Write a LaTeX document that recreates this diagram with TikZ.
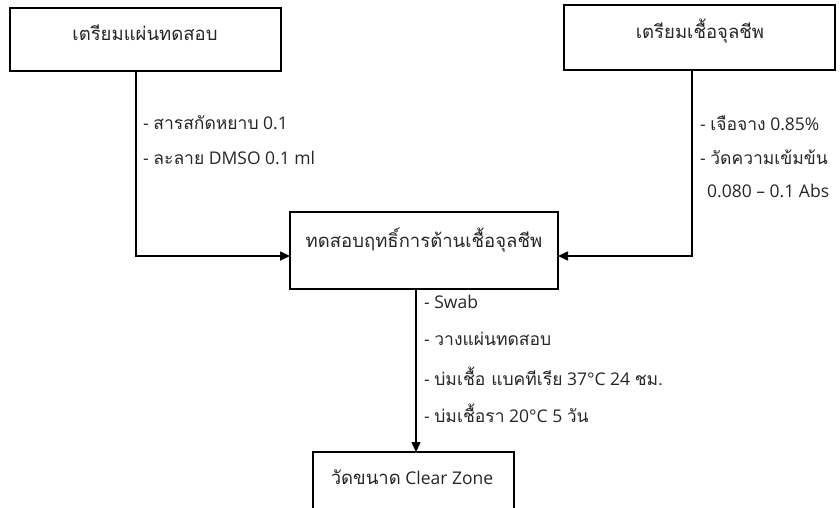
\documentclass[tikz,border=0pt]{standalone}
\usepackage{fontspec}
\setmainfont{Open Sans}
\newfontfamily\thai[Script=Thai]{Loma}
\usetikzlibrary{arrows.meta}
\begin{document}
\begin{tikzpicture}[x=1pt,y=-1pt,
  box/.style={draw, line width=1.6pt, inner sep=0pt},
  conn/.style={line width=1.6pt},
  arr/.style={conn, -{Triangle[length=10pt,width=9pt]}},
  lbl/.style={anchor=west, font=\fontsize{17.5}{17.5}\selectfont, text=black!85, inner sep=0pt},
  boxtxt/.style={font=\thai\fontsize{18.5}{18.5}\selectfont, text=black!85, inner sep=0pt}]
\useasboundingbox (0,0) rectangle (840,507);
\clip (0,0) rectangle (840,507);
% boxes
\draw[box] (10,8) rectangle (281,71);
\node[boxtxt] (t1) at (145,33) {เตรียมแผ่นทดสอบ};
\coordinate (b1) at (136,71);
\draw[box] (564,5) rectangle (835,70);
\node[boxtxt] (t2) at (700,31) {เตรียมเชื้อจุลชีพ};
\coordinate (b2) at (692,70);
\draw[box] (290,212) rectangle (558,289);
\node[boxtxt] (t3) at (424,240) {ทดสอบฤทธิ์การต้านเชื้อจุลชีพ};
\coordinate (mL) at (290,256);
\coordinate (mR) at (558,256);
\coordinate (mB) at (416,289);
\draw[box] (313,452) rectangle (514,530);
\node[font=\fontsize{17.5}{17.5}\selectfont, text=black!85, inner sep=0pt] (t4) at (412,477) {{\thai\fontsize{18.5}{18.5}\selectfont วัดขนาด} Clear Zone};
\coordinate (bT) at (416,452);
% connectors
\draw[arr] (b1) |- (mL);
\draw[arr] (b2) |- (mR);
\draw[arr] (mB) -- (bT);
% labels
\node[lbl] (l1) at (143,123) {- {\thai สารสกัดหยาบ} 0.1};
\node[lbl] (l2) at (143,158) {- {\thai ละลาย} DMSO 0.1 ml};
\node[lbl] (r1) at (700,123) {- {\thai เจือจาง} 0.85\%};
\node[lbl] (r2) at (700,157) {- {\thai วัดความเข้มข้น}};
\node[lbl] (r3) at (707,191) {0.080 – 0.1 Abs};
\node[lbl] (d1) at (424,302) {- Swab};
\node[lbl] (d2) at (424,339) {- {\thai วางแผ่นทดสอบ}};
\node[lbl] (d3) at (424,376) {- {\thai บ่มเชื้อ แบคทีเรีย} 37°C 24 {\thai ชม.}};
\node[lbl] (d4) at (424,413) {- {\thai บ่มเชื้อรา} 20°C 5 {\thai วัน}};
\end{tikzpicture}
\end{document}
